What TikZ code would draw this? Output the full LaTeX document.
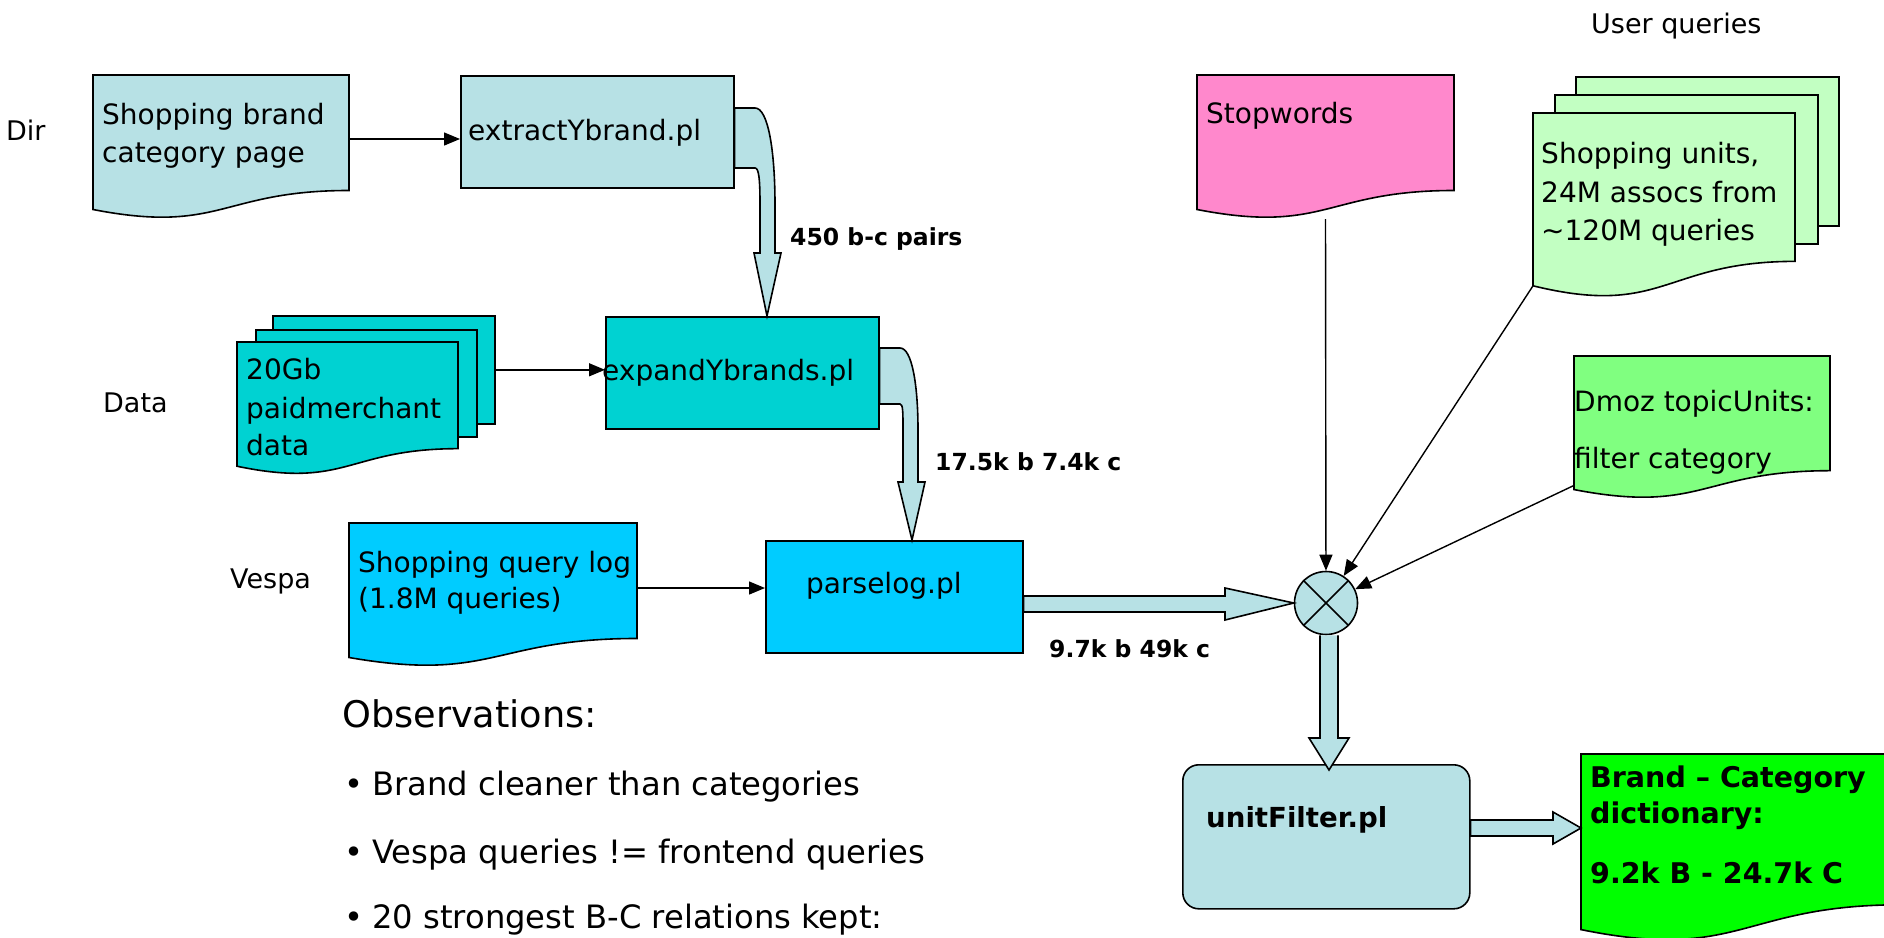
\documentclass[tikz,border=0pt]{standalone}
\usepackage{fontspec}
\setmainfont{DejaVu Sans}
\usetikzlibrary{arrows.meta,calc}

\definecolor{paleblue}{RGB}{183,225,229}
\definecolor{tealfill}{RGB}{0,210,210}
\definecolor{skyfill}{RGB}{0,204,255}
\definecolor{pinkfill}{RGB}{255,136,204}
\definecolor{mintfill}{RGB}{194,255,194}
\definecolor{greenfill}{RGB}{128,255,128}
\definecolor{brightgreen}{RGB}{0,255,0}

% flowchart "document" outline drawn over the box of an empty node
\newcommand\docoutline[2]{%
  \path[draw=black, line width=1.6pt, fill=#2]
    let \p1=(#1.north west), \p2=(#1.south east) in
    (\x1,\y1) -- (\x2,\y1) -- (\x2,{\y1+0.802*(\y2-\y1)})
    .. controls ({0.5*(\x1+\x2)},{\y1+0.802*(\y2-\y1)}) and ({0.5*(\x1+\x2)},{\y1+1.1075*(\y2-\y1)}) ..
    (\x1,{\y1+0.934*(\y2-\y1)}) -- cycle;}

\begin{document}
\begin{tikzpicture}[x=1pt,y=-1pt,
  procbox/.style={rectangle, draw=black, line width=1.6pt, inner sep=0pt, anchor=north west},
  docbox/.style={rectangle, inner sep=0pt, outer sep=0pt, anchor=north west},
  barrow/.style={draw=black, line width=1.6pt, fill=paleblue, line join=miter},
  conn/.style={draw=black, line width=1.4pt, -{Triangle[length=16pt,width=13pt]}},
  txt/.style={anchor=base west, inner sep=0pt, font=\fontsize{28}{34}\selectfont},
  lbl/.style={txt, font=\fontsize{27}{32}\selectfont},
  flow/.style={txt, font=\bfseries\fontsize{23.5}{28}\selectfont},
  result/.style={txt, font=\bfseries\fontsize{28.5}{34}\selectfont}]

\useasboundingbox (0,0) rectangle (1884,937);
\fill[white] (0,0) rectangle (1884,937);

% ---- Dir row
\node[docbox, minimum width=256pt, minimum height=144pt] (brandpage) at (93,75) {};
\docoutline{brandpage}{paleblue}
\node[procbox, fill=paleblue, minimum width=273pt, minimum height=112pt] (extract) at (460,75) {};

% ---- Data row
\node[procbox, fill=tealfill, minimum width=222pt, minimum height=108pt] (gbback) at (272,315) {};
\node[procbox, fill=tealfill, minimum width=221pt, minimum height=107pt] (gbmid) at (255,329) {};
\node[docbox, minimum width=221pt, minimum height=133pt] (gbfront) at (237,342) {};
\docoutline{gbfront}{tealfill}
\node[procbox, fill=tealfill, minimum width=273pt, minimum height=112pt] (expand) at (605,316) {};

% ---- Vespa row
\node[docbox, minimum width=288pt, minimum height=144pt] (qlog) at (349,523) {};
\docoutline{qlog}{skyfill}
\node[procbox, fill=skyfill, minimum width=257pt, minimum height=112pt] (parse) at (765,540) {};

% ---- filter inputs
\node[docbox, minimum width=257pt, minimum height=144pt] (stop) at (1197,75) {};
\docoutline{stop}{pinkfill}
\node[procbox, fill=mintfill, minimum width=263pt, minimum height=149pt] (uqback) at (1575,76) {};
\node[procbox, fill=mintfill, minimum width=263pt, minimum height=149pt] (uqmid) at (1554,94) {};
\node[docbox, minimum width=262pt, minimum height=185pt] (uqfront) at (1533,113) {};
\docoutline{uqfront}{mintfill}
\node[docbox, minimum width=256pt, minimum height=143pt] (dmoz) at (1574,356) {};
\docoutline{dmoz}{greenfill}

% ---- output
\node[procbox, fill=paleblue, rounded corners=16pt, minimum width=287pt, minimum height=144pt] (unitf) at (1182,764) {};
\node[docbox, minimum width=320pt, minimum height=188pt] (dict) at (1581,754) {};
\docoutline{dict}{brightgreen}

% ---- block arrows
\draw[barrow] (extract.east |- 0,108) -- (755,108)
  .. controls (768,108) and (775,150) .. (775,205) -- (775,253) -- (781,253)
  -- (expand.north -| 767,0) -- (754,253) -- (760,253) -- (760,205)
  .. controls (760,180) and (759,168) .. (755,168) -- (extract.east |- 0,168) -- cycle;
\draw[barrow] (expand.east |- 0,348) -- (900,348)
  .. controls (912,348) and (918,385) .. (918,430) -- (918,482) -- (925,482)
  -- (parse.north -| 912,0) -- (898,482) -- (903,482) -- (903,430)
  .. controls (903,412) and (903,404) .. (900,404) -- (expand.east |- 0,404) -- cycle;
\node[circle, draw=black, line width=1.6pt, fill=paleblue, minimum size=63pt, inner sep=0pt] (mix) at (1326,603) {};
\draw[barrow] (parse.east |- 0,596) -- (1225,596) -- (1225,588) -- (mix.west)
  -- (1225,620) -- (1225,612) -- (parse.east |- 0,612) -- cycle;
\draw[barrow] (mix.south -| 1320,0) -- (1320,738) -- (1309,738) -- ([yshift=-6pt]unitf.north -| 1329,0)
  -- (1349,738) -- (1338,738) -- (mix.south -| 1338,0);
\draw[barrow] (unitf.east |- 0,820) -- (1553,820) -- (1553,812) -- (dict.west |- 0,828)
  -- (1553,844) -- (1553,836) -- (unitf.east |- 0,836) -- cycle;
\draw[line width=1.6pt] (mix.north west) -- (mix.south east) (mix.north east) -- (mix.south west);

% ---- thin connectors
\draw[conn] (brandpage.north east |- 0,139) -- (extract.west |- 0,139);
\draw[conn] (gbback.east) -- (expand.west |- gbback.east);
\draw[conn] (qlog.north east |- 0,588) -- (parse.west |- 0,588);
\draw[conn] (stop.south) -- (mix);
\draw[conn] ($(uqfront.north west)!0.934!(uqfront.south west)$) -- (mix);
\draw[conn] ($(dmoz.north west)!0.905!(dmoz.south west)$) -- (mix);

% ---- row labels
\node[lbl] (dirlbl) at (6,140) {Dir};
\node[lbl] (datalbl) at (103,412) {Data};
\node[lbl] (vespalbl) at (230,588) {Vespa};
\node[lbl] (uqlbl) at (1591,33) {User queries};

% ---- box texts
\node[txt] (brandpage-1) at (102,124) {Shopping brand};
\node[txt] (brandpage-2) at (102,162) {category page};
\node[txt] (extract-t) at (468,140) {extractYbrand.pl};
\node[txt] (gb-1) at (246,379) {20Gb};
\node[txt] (gb-2) at (246,418) {paidmerchant};
\node[txt] (gb-3) at (246,455) {data};
\node[txt] (expand-t) at (602,380) {expandYbrands.pl};
\node[txt] (qlog-1) at (358,572) {Shopping query log};
\node[txt] (qlog-2) at (358,608) {(1.8M queries)};
\node[txt] (parse-t) at (806,593) {parselog.pl};
\node[txt] (stop-t) at (1206,123) {Stopwords};
\node[txt] (uq-1) at (1541,163) {Shopping units,};
\node[txt] (uq-2) at (1541,202) {24M assocs from};
\node[txt] (uq-3) at (1541,240) {\textasciitilde120M queries};
\node[txt] (dmoz-1) at (1574,411) {Dmoz topicUnits:};
\node[txt] (dmoz-2) at (1574,468) {filter category};
\node[txt, font=\bfseries\fontsize{27.6}{33}\selectfont] (unitf-t) at (1206,827) {unitFilter.pl};
\node[result] (dict-1) at (1590,787) {Brand -- Category};
\node[result] (dict-2) at (1590,823) {dictionary:};
\node[result] (dict-3) at (1590,883) {9.2k B - 24.7k C};

% ---- flow counts
\node[flow] (cnt1) at (790,245) {450 b-c pairs};
\node[flow] (cnt2) at (935,470) {17.5k b 7.4k c};
\node[flow] (cnt3) at (1049,657) {9.7k b 49k c};

% ---- observations
\node[txt, font=\fontsize{36.7}{44}\selectfont] (obs) at (342,727) {Observations:};
\node[txt, font=\fontsize{32.2}{38}\selectfont] (obs-1) at (344,795) {•\hspace{9pt}Brand cleaner than categories};
\node[txt, font=\fontsize{32.2}{38}\selectfont] (obs-2) at (344,863) {•\hspace{9pt}Vespa queries != frontend queries};
\node[txt, font=\fontsize{32.2}{38}\selectfont] (obs-3) at (344,928) {•\hspace{9pt}20 strongest B-C relations kept:};
\end{tikzpicture}
\end{document}
